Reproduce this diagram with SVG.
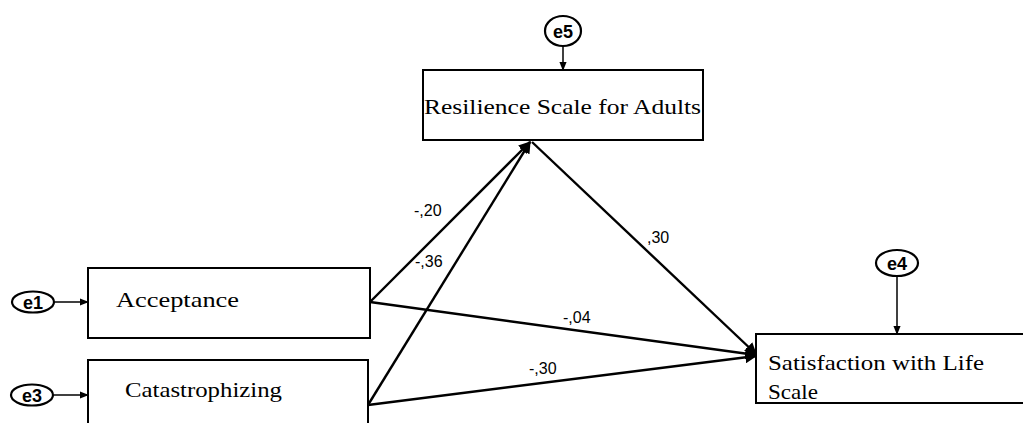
<svg xmlns="http://www.w3.org/2000/svg" width="1023" height="423" viewBox="0 0 1023 423">
<style>
.box{fill:#fff;stroke:#000;stroke-width:2}
.err{fill:#fff;stroke:#000;stroke-width:2.2}
.lbl{font-family:"Liberation Serif",serif;font-size:22px;fill:#000}
.etxt{font-family:"Liberation Sans",sans-serif;font-size:18px;font-weight:bold;fill:#000}
.coef{font-family:"Liberation Sans",sans-serif;font-size:16px;fill:#000}
.path{stroke:#000;stroke-width:2.4;fill:none}
.thin{stroke:#000;stroke-width:1.5;fill:none}
</style>
<defs>
<marker id="ah" viewBox="0 0 10 10" refX="9" refY="5" markerWidth="5" markerHeight="5" orient="auto" markerUnits="strokeWidth">
<path d="M0,0 L10,5 L0,10 z" fill="#000"/>
</marker>
<marker id="ahs" viewBox="0 0 10 10" refX="9" refY="5" markerWidth="6" markerHeight="6" orient="auto" markerUnits="strokeWidth">
<path d="M0,1 L10,5 L0,9 z" fill="#000"/>
</marker>
</defs>
<g id="connectors">
<line class="thin" x1="563" y1="47" x2="563" y2="70" marker-end="url(#ahs)"/>
<line class="thin" x1="55" y1="302" x2="88" y2="302" marker-end="url(#ahs)"/>
<line class="thin" x1="54" y1="395" x2="88" y2="395" marker-end="url(#ahs)"/>
<line class="thin" x1="897" y1="277" x2="897" y2="334" marker-end="url(#ahs)"/>
<line class="path" x1="370" y1="302" x2="530" y2="142" marker-end="url(#ah)"/>
<line class="path" x1="368" y1="405" x2="530" y2="142" marker-end="url(#ah)"/>
<line class="path" x1="532" y1="142" x2="756" y2="354" marker-end="url(#ah)"/>
<line class="path" x1="370" y1="302" x2="756" y2="355" marker-end="url(#ah)"/>
<line class="path" x1="368" y1="405" x2="756" y2="356" marker-end="url(#ah)"/>
<text class="coef" x="414" y="216">-,20</text>
<text class="coef" x="415" y="267">-,36</text>
<text class="coef" x="647" y="243">,30</text>
<text class="coef" x="563" y="323">-,04</text>
<text class="coef" x="529" y="374">-,30</text>
</g>
<g id="e5">
<ellipse class="err" cx="563" cy="31" rx="18" ry="15"/>
<text class="etxt" x="563" y="37.5" text-anchor="middle">e5</text>
</g>
<g id="resilience">
<rect class="box" x="423" y="70" width="280" height="70"/>
<text class="lbl" x="424" y="114" textLength="277" lengthAdjust="spacingAndGlyphs">Resilience Scale for Adults</text>
</g>
<g id="e1">
<ellipse class="err" cx="33" cy="302" rx="21" ry="10.5"/>
<text class="etxt" x="33" y="308.5" text-anchor="middle">e1</text>
</g>
<g id="acceptance">
<rect class="box" x="88" y="268" width="282" height="70"/>
<text class="lbl" x="116" y="307" textLength="123" lengthAdjust="spacingAndGlyphs">Acceptance</text>
</g>
<g id="e3">
<ellipse class="err" cx="32" cy="395" rx="21" ry="10.5"/>
<text class="etxt" x="32" y="401.5" text-anchor="middle">e3</text>
</g>
<g id="catastrophizing">
<rect class="box" x="88" y="360" width="280" height="80"/>
<text class="lbl" x="125" y="397" textLength="157" lengthAdjust="spacingAndGlyphs">Catastrophizing</text>
</g>
<g id="e4">
<ellipse class="err" cx="897" cy="263" rx="21" ry="13"/>
<text class="etxt" x="897" y="269.5" text-anchor="middle">e4</text>
</g>
<g id="satisfaction">
<rect class="box" x="756" y="334" width="280" height="69"/>
<text class="lbl" x="768" y="370" textLength="216" lengthAdjust="spacingAndGlyphs">Satisfaction with Life</text>
<text class="lbl" x="768" y="399" textLength="50" lengthAdjust="spacingAndGlyphs">Scale</text>
</g>
</svg>
